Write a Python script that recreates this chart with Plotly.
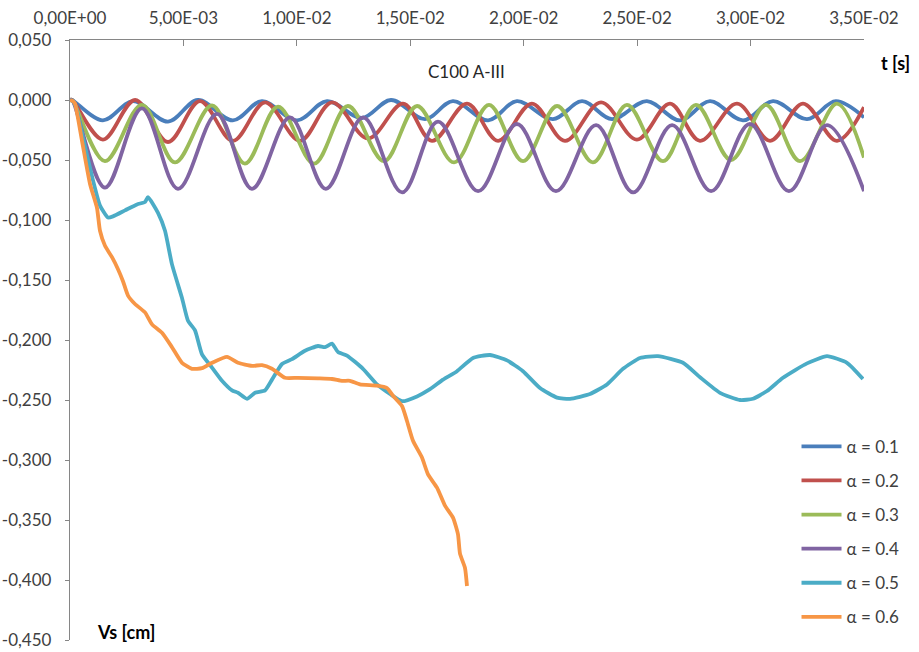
import plotly.graph_objects as go

# ---- data (t in seconds, Vs in cm) ----
t_a1 = [0, 0.00009, 0.00145, 0.00278, 0.00432, 0.00564, 0.00718, 0.00846, 0.01001, 0.01133,
        0.01287, 0.01415, 0.01565, 0.01688, 0.01843, 0.01970, 0.02129, 0.02257, 0.02389,
        0.02543, 0.02689, 0.02821, 0.02967, 0.03099, 0.03249, 0.03376, 0.03500]
v_a1 = [0, 0, -0.017, -0.001, -0.018, 0.000, -0.017, -0.001, -0.017, -0.001,
        -0.015, 0.000, -0.016, -0.001, -0.017, -0.001, -0.016, -0.001, -0.016,
        -0.001, -0.017, -0.001, -0.017, -0.001, -0.016, -0.001, -0.0145]

t_a2 = [0, 0.00009, 0.00145, 0.00287, 0.00432, 0.00573, 0.00718, 0.00860, 0.01014, 0.01155,
        0.01314, 0.01468, 0.01596, 0.01750, 0.01887, 0.02036, 0.02182, 0.02341, 0.02499,
        0.02645, 0.02777, 0.02940, 0.03086, 0.03231, 0.03381, 0.03500]
v_a2 = [0, 0, -0.033, 0.000, -0.035, -0.001, -0.034, -0.002, -0.034, -0.002,
        -0.032, -0.003, -0.034, -0.003, -0.034, -0.003, -0.034, -0.002, -0.033,
        -0.003, -0.034, -0.003, -0.034, -0.003, -0.034, -0.006]

t_a3 = [0, 0.00009, 0.00154, 0.00317, 0.00463, 0.00626, 0.00771, 0.00917, 0.01076, 0.01225,
        0.01384, 0.01530, 0.01693, 0.01847, 0.01997, 0.02147, 0.02305, 0.02455, 0.02614,
        0.02759, 0.02914, 0.03068, 0.03218, 0.03381, 0.03500]
v_a3 = [0, 0, -0.051, -0.004, -0.052, -0.0045, -0.053, -0.0055, -0.053, -0.005,
        -0.051, -0.005, -0.052, -0.004, -0.051, -0.005, -0.052, -0.004, -0.051,
        -0.004, -0.050, -0.004, -0.051, -0.003, -0.048]

t_a4 = [0, 0.00009, 0.00154, 0.00317, 0.00476, 0.00648, 0.00802, 0.00970, 0.01128, 0.01292,
        0.01464, 0.01622, 0.01799, 0.01970, 0.02142, 0.02319, 0.02482, 0.02654, 0.02826,
        0.02997, 0.03169, 0.03337, 0.03500]
v_a4 = [0, 0, -0.073, -0.007, -0.074, -0.0115, -0.074, -0.0145, -0.074, -0.0145,
        -0.077, -0.018, -0.076, -0.020, -0.076, -0.021, -0.077, -0.021, -0.076,
        -0.020, -0.076, -0.021, -0.076]

t_a5 = [0, 0.000132, 0.000264, 0.000617, 0.001014, 0.001322, 0.001675, 0.001895, 0.002424,
        0.002953, 0.003306, 0.003438, 0.003879, 0.004188, 0.004496, 0.004937, 0.005201,
        0.005510, 0.005819, 0.006259, 0.006700, 0.007141, 0.007405, 0.007802, 0.008155,
        0.008596, 0.008904, 0.009345, 0.009786, 0.010359, 0.010932, 0.011240, 0.011549,
        0.011813, 0.012210, 0.012915, 0.013533, 0.014106, 0.014635, 0.015296, 0.015869,
        0.016442, 0.017059, 0.017764, 0.018514, 0.019263, 0.019968, 0.020718, 0.021467,
        0.022040, 0.022922, 0.023671, 0.024376, 0.025126, 0.025919, 0.027021, 0.027770,
        0.028652, 0.029534, 0.030107, 0.030724, 0.031429, 0.032487, 0.033369, 0.034250,
        0.034955]
v_a5 = [0, -0.001, -0.006, -0.035, -0.067, -0.088, -0.098, -0.097, -0.092,
        -0.087, -0.085, -0.081, -0.094, -0.109, -0.137, -0.165, -0.184,
        -0.192, -0.212, -0.223, -0.234, -0.242, -0.244, -0.249, -0.244,
        -0.242, -0.233, -0.220, -0.216, -0.209, -0.205, -0.206, -0.203,
        -0.210, -0.213, -0.224, -0.237, -0.245, -0.251, -0.247, -0.241,
        -0.233, -0.226, -0.215, -0.2125, -0.217, -0.226, -0.240, -0.248,
        -0.249, -0.245, -0.237, -0.224, -0.215, -0.2135, -0.219, -0.231,
        -0.244, -0.250, -0.249, -0.2425, -0.2315, -0.2195, -0.2135, -0.219,
        -0.2325]

t_a6 = [0, 0.000132, 0.000220, 0.000529, 0.000882, 0.001190, 0.001322, 0.001543, 0.001851,
        0.002116, 0.002336, 0.002557, 0.002865, 0.003306, 0.003615, 0.004055, 0.004496,
        0.004937, 0.005378, 0.005819, 0.006259, 0.006921, 0.007405, 0.008023, 0.008463,
        0.008904, 0.009477, 0.010050, 0.010932, 0.011549, 0.011990, 0.012342, 0.012783,
        0.013533, 0.013973, 0.014238, 0.014635, 0.014855, 0.015119, 0.015516, 0.015781,
        0.016177, 0.016530, 0.016883, 0.017103, 0.017191, 0.017412, 0.017500]
v_a6 = [0, -0.001, -0.003, -0.034, -0.070, -0.090, -0.109, -0.1215, -0.131,
        -0.141, -0.151, -0.163, -0.170, -0.177, -0.187, -0.194, -0.206,
        -0.219, -0.224, -0.2235, -0.219, -0.214, -0.219, -0.2215, -0.221,
        -0.224, -0.2315, -0.2315, -0.232, -0.2325, -0.234, -0.234, -0.237,
        -0.238, -0.240, -0.2465, -0.255, -0.2675, -0.284, -0.298, -0.312,
        -0.323, -0.338, -0.348, -0.362, -0.378, -0.390, -0.405]

series_names = ["α = 0.1", "α = 0.2", "α = 0.3", "α = 0.4", "α = 0.5", "α = 0.6"]
series_t = [t_a1, t_a2, t_a3, t_a4, t_a5, t_a6]
series_v = [v_a1, v_a2, v_a3, v_a4, v_a5, v_a6]
colors = ["#4A7EBB", "#C0504D", "#9BBB59", "#8064A2", "#4BACC6", "#F79646"]

x_tickvals = [0, 0.005, 0.010, 0.015, 0.020, 0.025, 0.030, 0.035]
x_ticktext = ["0,00E+00", "5,00E-03", "1,00E-02", "1,50E-02", "2,00E-02", "2,50E-02",
              "3,00E-02", "3,50E-02"]
y_tickvals = [0.05, 0.0, -0.05, -0.10, -0.15, -0.20, -0.25, -0.30, -0.35, -0.40, -0.45]
y_ticktext = ["0,050", "0,000", "-0,050", "-0,100", "-0,150", "-0,200", "-0,250",
              "-0,300", "-0,350", "-0,400", "-0,450"]

FONT = "Lato, 'Open Sans', sans-serif"

fig = go.Figure()
for name, t, v, c in zip(series_names, series_t, series_v, colors):
    smooth = 1.0 if name in series_names[:4] else 0.5
    fig.add_trace(go.Scatter(
        x=t, y=v, mode="lines", name=name, legendgroup=name,
        line=dict(color=c, width=3.8, shape="spline", smoothing=smooth),
    ))

fig.update_layout(
    width=919, height=652,
    margin=dict(l=70, r=55, t=40, b=12, autoexpand=False),
    paper_bgcolor="white", plot_bgcolor="white",
    font=dict(family=FONT, size=17, color="#404040"),
    showlegend=True,
    legend=dict(
        x=0.915, y=0.352, xanchor="left", yanchor="top",
        font=dict(family=FONT, size=17, color="#404040"),
        itemwidth=40, tracegroupgap=9, traceorder="grouped",
        bgcolor="rgba(0,0,0,0)",
    ),
    xaxis=dict(
        range=[0, 0.035], side="top", tickvals=x_tickvals, ticktext=x_ticktext,
        automargin=False,
        showline=True, linecolor="#868686", linewidth=1.3, showgrid=False, zeroline=False,
        ticks="inside", ticklen=6, tickcolor="#868686", tickwidth=1.3,
        tickfont=dict(family=FONT, size=17, color="#404040"), ticklabelstandoff=8,
    ),
    yaxis=dict(
        range=[-0.45, 0.05], tickvals=y_tickvals, ticktext=y_ticktext,
        automargin=False,
        showline=True, linecolor="#868686", linewidth=1.3, showgrid=False, zeroline=False,
        ticks="outside", ticklen=4, tickcolor="#868686", tickwidth=1.3,
        tickfont=dict(family=FONT, size=17, color="#404040"), ticklabelstandoff=10,
    ),
    annotations=[
        dict(text="C100 A-III", xref="paper", yref="paper", x=0.499, y=0.947,
             xanchor="center", yanchor="middle",
             showarrow=False, font=dict(family=FONT, size=17, color="#262626")),
        dict(text="<b>t [s]</b>", xref="paper", yref="paper", x=1.040, y=0.962,
             xanchor="center", yanchor="middle",
             showarrow=False, font=dict(family=FONT, size=18, color="#000000")),
        dict(text="<b>Vs [cm]</b>", xref="paper", yref="paper", x=0.0705, y=0.0133,
             xanchor="center", yanchor="middle",
             showarrow=False, font=dict(family=FONT, size=18, color="#000000")),
    ],
)

# remove the default 8px page margin so the figure fills the window exactly
fig.write_html("out.html", config={"displayModeBar": False},
               post_script="document.body.style.margin='0';")
